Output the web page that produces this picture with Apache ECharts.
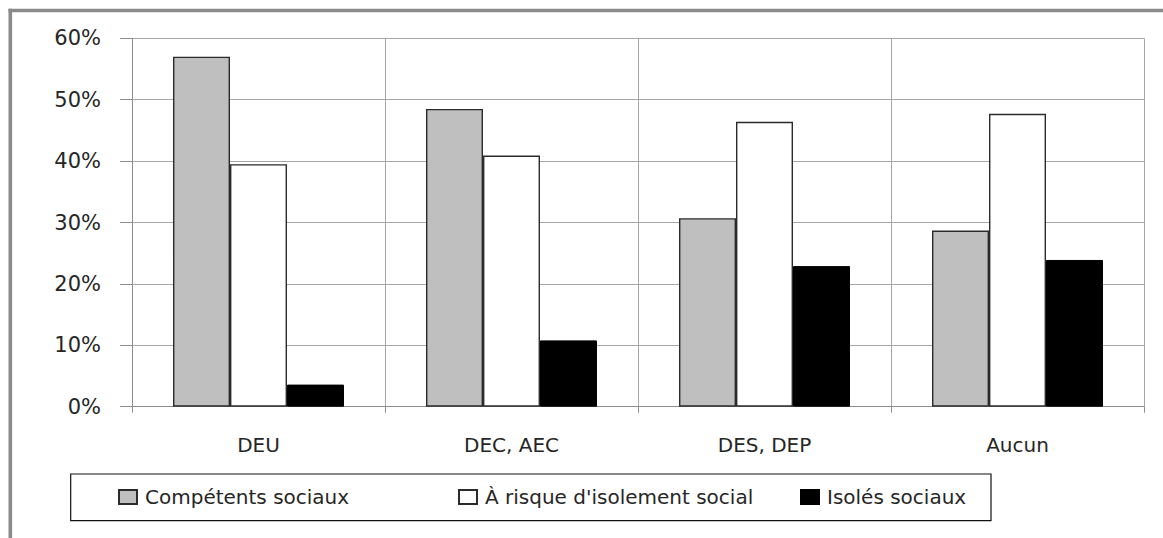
<!DOCTYPE html>
<html>
<head>
<meta charset="utf-8">
<script src="https://cdn.jsdelivr.net/npm/echarts@6/dist/echarts.min.js"></script>
<style>
  html, body { margin: 0; padding: 0; background: #fff; overflow: hidden; }
  #chart { width: 1163px; height: 538px; }
</style>
</head>
<body>
<div id="chart"></div>
<script>
const categories = ['DEU', 'DEC, AEC', 'DES, DEP', 'Aucun'];
const competents = [57.0, 48.5, 30.7, 28.7];
const aRisque = [39.5, 40.9, 46.4, 47.7];
const isoles = [3.6, 10.8, 22.9, 23.9];
const seriesNames = ['Compétents sociaux', "À risque d'isolement social", 'Isolés sociaux'];

const FONT = 'DejaVu Sans';
const TEXT = '#262626';
const chart = echarts.init(document.getElementById('chart'), null, { renderer: 'svg' });

const barW = 57;
const edge = '#2b2b2b';

// one legend block per series so each entry sits at its own spot inside the frame
const legendLeft = [118, 458, 800];

chart.setOption({
  animation: false,
  backgroundColor: '#fff',
  textStyle: { fontFamily: FONT },
  grid: { left: 132, right: 19, top: 38.3, bottom: 131.3, containLabel: false },
  xAxis: {
    type: 'category',
    data: categories,
    boundaryGap: true,
    axisLine: { show: true, lineStyle: { color: '#8c8c8c', width: 1 } },
    axisTick: { show: true, length: 6, lineStyle: { color: '#8c8c8c' } },
    splitLine: { show: true, lineStyle: { color: '#a6a6a6', width: 1 } },
    axisLabel: { color: TEXT, fontSize: 20, fontFamily: FONT, margin: 28 }
  },
  yAxis: {
    type: 'value',
    min: 0, max: 60, interval: 10,
    axisLine: { show: true, lineStyle: { color: '#8c8c8c', width: 1 } },
    axisTick: { show: true, length: 12, lineStyle: { color: '#8c8c8c' } },
    splitLine: { show: true, lineStyle: { color: '#a6a6a6', width: 1 } },
    axisLabel: { color: TEXT, fontSize: 21, fontFamily: FONT, margin: 31, formatter: '{value}%' }
  },
  legend: seriesNames.map((name, i) => ({
    data: [name], left: legendLeft[i], top: 487,
    padding: 0, itemWidth: 18, itemHeight: 14, itemGap: 0, icon: 'rect',
    textStyle: { color: TEXT, fontSize: 20, fontFamily: FONT, padding: [0, 0, 0, 3] }
  })),
  graphic: [
    // outer frame (left and top edges)
    { type: 'rect', shape: { x: 8.5, y: 8.8, width: 3.6, height: 540 }, style: { fill: '#8a8a8a' }, silent: true },
    { type: 'rect', shape: { x: 8.5, y: 8.8, width: 1160, height: 3.4 }, style: { fill: '#8a8a8a' }, silent: true },
    // legend frame
    { type: 'rect', shape: { x: 70.7, y: 474, width: 920.3, height: 46.7 }, style: { fill: 'none', stroke: '#111', lineWidth: 1.2 }, silent: true }
  ],
  series: [
    { name: seriesNames[0], type: 'bar', data: competents, barWidth: barW, barGap: '0%',
      itemStyle: { color: '#bfbfbf', borderColor: edge, borderWidth: 1.4 } },
    { name: seriesNames[1], type: 'bar', data: aRisque, barWidth: barW, barGap: '0%',
      itemStyle: { color: '#ffffff', borderColor: edge, borderWidth: 1.4 } },
    { name: seriesNames[2], type: 'bar', data: isoles, barWidth: barW, barGap: '0%',
      itemStyle: { color: '#000000', borderColor: '#000', borderWidth: 1 } }
  ]
});
</script>
</body>
</html>
